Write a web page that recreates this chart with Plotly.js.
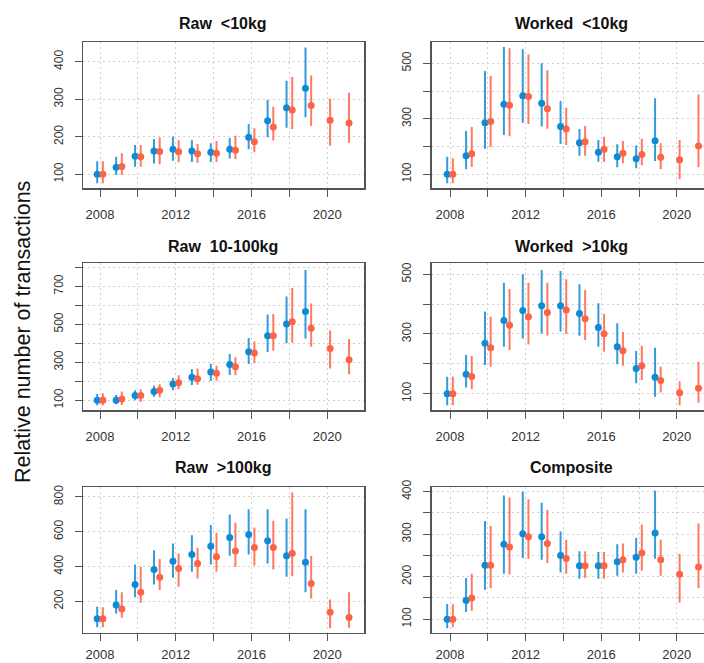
<!DOCTYPE html>
<html>
<head>
<meta charset="utf-8">
<script src="https://cdn.plot.ly/plotly-3.0.1.min.js"></script>
<style>html,body{margin:0;padding:0;background:#fff}#chart{width:704px;height:663px}</style>
</head>
<body>
<div id="chart"></div>
<script>
// ---------- DATA ----------
const yearsBlue = [2008,2009,2010,2011,2012,2013,2014,2015,2016,2017,2018,2019];
const yearsRed  = [2008,2009,2010,2011,2012,2013,2014,2015,2016,2017,2018,2019,2020,2021];
const panelTitles = ["Raw\u00a0 <10kg", "Worked\u00a0 <10kg", "Raw\u00a0 10-100kg", "Worked\u00a0 >10kg", "Raw\u00a0 >100kg", "Composite"];
const yAxisTitle = "Relative number of transactions";
const xTickVals = [2008,2010,2012,2014,2016,2018,2020];
const xTickText = ["2008","","2012","","2016","","2020"];

// Raw <10kg
const rawS_blue   = [100,119,148,162,167,162,159,167,199,243,277,329];
const rawS_blueLo = [76,98,120,129,136,133,133,142,167,199,224,252];
const rawS_blueHi = [135,147,178,194,200,191,183,197,234,298,349,438];
const rawS_red    = [100,121,147,161,160,155,156,164,187,226,271,283,244,237];
const rawS_redLo  = [76,98,120,127,132,131,133,140,159,190,221,229,176,184];
const rawS_redHi  = [135,156,178,198,191,181,189,203,223,280,359,363,301,317];
const rawS_ticks  = [100,200,300,400];
const rawS_labels = ["100","200","300","400"];

// Worked <10kg
const wrkS_blue   = [100,167,286,352,383,356,272,214,179,163,156,221];
const wrkS_blueLo = [68,118,192,242,286,272,209,167,145,125,122,148];
const wrkS_blueHi = [163,256,472,559,551,500,364,263,224,208,204,374];
const wrkS_red    = [100,174,290,349,380,336,263,217,190,176,171,161,152,202];
const wrkS_redLo  = [68,126,198,237,281,264,206,167,144,140,133,118,83,125];
const wrkS_redHi  = [158,270,454,554,532,475,340,274,235,220,228,212,224,388];
const wrkS_ticks  = [100,200,300,400,500];
const wrkS_labels = ["100","","300","","500"];

// Raw 10-100kg
const rawM_blue   = [100,100,125,147,186,221,249,288,356,440,502,568];
const rawM_blueLo = [74,79,100,119,153,181,202,233,291,354,400,425];
const rawM_blueHi = [133,128,153,177,218,265,293,344,428,551,646,786];
const rawM_red    = [100,107,125,153,193,214,242,277,349,440,514,479,372,314];
const rawM_redLo  = [74,75,91,116,158,182,203,232,295,361,403,382,267,237];
const rawM_redHi  = [137,147,158,184,232,268,282,326,409,554,691,610,467,423];
const rawM_ticks  = [100,200,300,400,500,600,700,800];
const rawM_labels = ["100","","300","","500","","700",""];

// Worked >10kg
const wrkL_blue   = [100,165,269,345,379,395,395,369,322,257,184,155];
const wrkL_blueLo = [61,121,196,257,285,302,308,294,257,199,135,90];
const wrkL_blueHi = [157,230,375,472,500,514,511,467,403,336,243,254];
const wrkL_red    = [100,158,254,329,358,372,380,351,301,244,194,144,103,118];
const wrkL_redLo  = [61,115,190,246,265,295,300,280,241,194,146,104,61,70];
const wrkL_redHi  = [157,226,358,451,472,472,483,447,367,307,261,190,142,207];
const wrkL_ticks  = [100,200,300,400,500];
const wrkL_labels = ["100","","300","","500"];

// Raw >100kg
const rawL_blue   = [100,179,297,383,431,469,517,567,584,548,462,424];
const rawL_blueLo = [51,131,223,297,336,370,412,462,469,418,341,252];
const rawL_blueHi = [169,265,412,494,533,580,638,699,729,729,676,729];
const rawL_red    = [100,156,252,338,389,418,456,490,510,510,477,303,137,108];
const rawL_redLo  = [51,106,192,265,284,332,370,399,406,383,345,217,45,49];
const rawL_redHi  = [166,252,399,443,475,508,594,651,624,663,825,460,211,252];
const rawL_ticks  = [200,400,600,800];
const rawL_labels = ["200","400","600","800"];

// Composite
const comp_blue   = [100,144,227,276,301,294,250,226,226,235,246,303];
const comp_blueLo = [79,117,169,207,244,240,210,195,195,202,207,242];
const comp_blueHi = [136,197,331,391,400,374,306,260,258,276,291,402];
const comp_red    = [100,150,227,270,294,278,243,226,226,240,256,240,206,223];
const comp_redLo  = [81,120,173,205,242,232,207,197,195,210,214,202,139,173];
const comp_redHi  = [135,207,319,386,382,357,287,260,258,278,323,287,254,325];
const comp_ticks  = [100,150,200,250,300,350,400];
const comp_labels = ["100","","200","","300","","400"];

// ---------- STYLE / LAYOUT ----------
const W = 704, H = 663;
const BLUE = "#0f8ad6", RED = "#fb6446";
const BLUE_BAR = "rgba(15,138,214,0.85)", RED_BAR = "rgba(251,100,70,0.85)";
const FONT = "Liberation Sans, Arial, sans-serif";

const panels = [
  {b:[rawS_blue,rawS_blueLo,rawS_blueHi], r:[rawS_red,rawS_redLo,rawS_redHi], ticks:rawS_ticks, labels:rawS_labels, yr:[62.7,452.5]},
  {b:[wrkS_blue,wrkS_blueLo,wrkS_blueHi], r:[wrkS_red,wrkS_redLo,wrkS_redHi], ticks:wrkS_ticks, labels:wrkS_labels, yr:[49.5,576.8]},
  {b:[rawM_blue,rawM_blueLo,rawM_blueHi], r:[rawM_red,rawM_redLo,rawM_redHi], ticks:rawM_ticks, labels:rawM_labels, yr:[49,821]},
  {b:[wrkL_blue,wrkL_blueLo,wrkL_blueHi], r:[wrkL_red,wrkL_redLo,wrkL_redHi], ticks:wrkL_ticks, labels:wrkL_labels, yr:[45.4,536.8]},
  {b:[rawL_blue,rawL_blueLo,rawL_blueHi], r:[rawL_red,rawL_redLo,rawL_redHi], ticks:rawL_ticks, labels:rawL_labels, yr:[20,857]},
  {b:[comp_blue,comp_blueLo,comp_blueHi], r:[comp_red,comp_redLo,comp_redHi], ticks:comp_ticks, labels:comp_labels, yr:[68.3,410.9]}
];

// pixel boxes [left, right, top, bottom]
const colX = [[83,364],[431.7,704]];
const rowY = [[42,188.3],[263.3,410],[487,632.7]];
const xRangeL = [2007.1, 2021.94];
const xRangeR = [2007.03, 2021.44];
const titleY = [24, 246, 467.5];
const titleX = [223.5, 571];

const traces = [];
const layout = {
  width: W, height: H,
  margin: {l:0, r:0, t:0, b:0},
  paper_bgcolor: "#fff", plot_bgcolor: "#fff",
  showlegend: false,
  font: {family: FONT, size: 12, color: "#333"},
  annotations: [],
};

panels.forEach((p, i) => {
  const col = i % 2, row = Math.floor(i / 2);
  const n = i + 1;
  const xa = "x" + (n === 1 ? "" : n), ya = "y" + (n === 1 ? "" : n);
  const xKey = "xaxis" + (n === 1 ? "" : n), yKey = "yaxis" + (n === 1 ? "" : n);
  const [l, r] = colX[col];
  const [t, b] = rowY[row];

  layout[xKey] = {
    domain: [l / W, r / W],
    anchor: ya,
    range: col === 0 ? xRangeL : xRangeR,
    tickmode: "array", tickvals: xTickVals, ticktext: xTickText,
    ticks: "outside", ticklen: 7, tickwidth: 1, tickcolor: "#555",
    showline: true, linecolor: "#555", linewidth: 1.5, mirror: true,
    showgrid: true, gridcolor: "#d0d0d0", gridwidth: 1, griddash: "2px,3px",
    zeroline: false,
    tickfont: {family: FONT, size: 13, color: "#333"},
    ticklabelstandoff: row === 2 ? 2 : 7,
  };
  layout[yKey] = {
    domain: [1 - b / H, 1 - t / H],
    anchor: xa,
    range: p.yr,
    tickmode: "array", tickvals: p.ticks, ticktext: p.labels,
    ticks: "outside", ticklen: 7, tickwidth: 1, tickcolor: "#555",
    showline: true, linecolor: "#555", linewidth: 1.5, mirror: col === 0,
    showgrid: true, gridcolor: "#d0d0d0", gridwidth: 1, griddash: "2px,3px",
    zeroline: false,
    tickangle: -90,
    tickfont: {family: FONT, size: 12, color: "#333"},
    ticklabelstandoff: 7,
  };

  const mk = (yrs, data, off, color, barColor) => ({
    type: "scatter", mode: "markers",
    x: yrs.map(v => v + off), y: data[0],
    xaxis: xa, yaxis: ya,
    marker: {color: color, size: 7, symbol: "circle"},
    error_y: {
      type: "data", symmetric: false,
      array: data[0].map((v, k) => data[2][k] - v),
      arrayminus: data[0].map((v, k) => v - data[1][k]),
      width: 0, thickness: 2, color: barColor,
    },
    hoverinfo: "x+y",
  });
  traces.push(mk(yearsBlue, p.b, -0.15, BLUE, BLUE_BAR));
  traces.push(mk(yearsRed, p.r, 0.15, RED, RED_BAR));

  layout.annotations.push({
    text: "<b>" + panelTitles[i] + "</b>",
    xref: "paper", yref: "paper",
    x: titleX[col] / W, y: 1 - titleY[row] / H,
    xanchor: "center", yanchor: "middle",
    showarrow: false,
    font: {family: FONT, size: 16, color: "#111"},
  });
});

layout.annotations.push({
  text: yAxisTitle,
  xref: "paper", yref: "paper",
  x: 23 / W, y: 1 - 332 / H,
  xanchor: "center", yanchor: "middle",
  textangle: -90, showarrow: false,
  font: {family: FONT, size: 21.5, color: "#111"},
});

Plotly.newPlot("chart", traces, layout, {staticPlot: true, displayModeBar: false});
</script>
</body>
</html>
